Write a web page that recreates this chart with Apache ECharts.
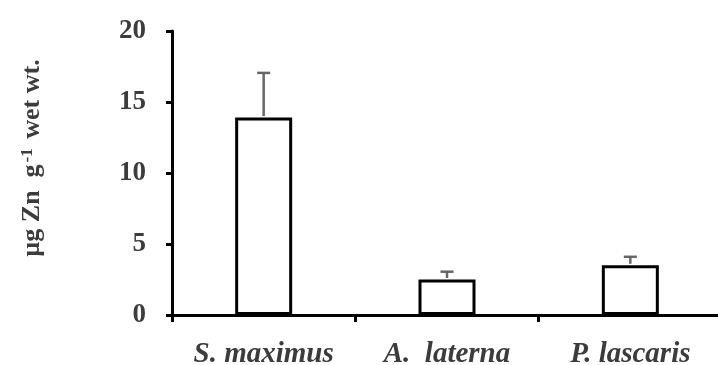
<!DOCTYPE html>
<html>
<head>
<meta charset="utf-8">
<script src="https://cdn.jsdelivr.net/npm/echarts@6/dist/echarts.min.js"></script>
<style>
  html, body { margin: 0; padding: 0; background: #fff; }
  #chart { width: 718px; height: 365px; }
</style>
</head>
<body>
<div id="chart"></div>
<script>
// species and zinc concentration (mean, +SD)
const species = ["S. maximus", "A.  laterna", "P. lascaris"];
const meanZn = [13.9, 2.5, 3.5];
const sdZn = [3.15, 0.55, 0.6];
const yTicks = [0, 5, 10, 15, 20];

const SERIF = "'Liberation Serif', 'Times New Roman', serif";
const LABEL_COLOR = "#3c3c3c";

const chart = echarts.init(document.getElementById("chart"), null, { renderer: "canvas" });

chart.setOption({
  backgroundColor: "#ffffff",
  animation: false,
  grid: { left: 172, right: -4, top: 31, bottom: 50, outerBoundsMode: "none", containLabel: false },
  xAxis: {
    type: "category",
    data: species,
    boundaryGap: true,
    axisLine: { lineStyle: { color: "#000", width: 3 } },
    axisTick: { show: true, length: 7, lineStyle: { color: "#000", width: 3 } },
    axisLabel: {
      interval: 0,
      hideOverlap: false,
      margin: 25,
      color: LABEL_COLOR,
      fontFamily: SERIF,
      fontSize: 29,
      fontWeight: "bold",
      fontStyle: "italic"
    },
    splitLine: { show: false }
  },
  yAxis: {
    type: "value",
    min: yTicks[0],
    max: yTicks[yTicks.length - 1],
    interval: 5,
    axisLine: { show: true, lineStyle: { color: "#000", width: 3 } },
    axisTick: { show: true, length: 6, lineStyle: { color: "#000", width: 3 } },
    axisLabel: {
      margin: 26,
      color: LABEL_COLOR,
      fontFamily: SERIF,
      fontSize: 27,
      fontWeight: "bold"
    },
    splitLine: { show: false }
  },
  graphic: [
    {
      type: "text",
      x: 32,
      y: 158,
      rotation: Math.PI / 2,
      style: {
        text: "{a|µg Zn  g}{s|-1}{a| wet wt.}",
        align: "center",
        verticalAlign: "middle",
        rich: {
          a: { font: "bold 26px " + SERIF, fill: LABEL_COLOR, verticalAlign: "bottom" },
          s: { font: "bold 17px " + SERIF, fill: LABEL_COLOR, verticalAlign: "top", padding: [0, 3, 0, 2] }
        }
      }
    }
  ],
  series: [
    {
      name: "mean",
      type: "bar",
      data: meanZn,
      barWidth: 57,
      itemStyle: { color: "#fff", borderColor: "#000", borderWidth: 3 },
      z: 2
    },
    {
      name: "sd",
      type: "custom",
      z: 3,
      data: meanZn.map((m, i) => [i, m, m + sdZn[i]]),
      renderItem: function (params, api) {
        const base = api.coord([api.value(0), api.value(1)]);
        const top = api.coord([api.value(0), api.value(2)]);
        const cap = 6.5;
        const st = { stroke: "#666", lineWidth: 2.5 };
        return {
          type: "group",
          children: [
            { type: "line", shape: { x1: base[0], y1: base[1] - 1.5, x2: top[0], y2: top[1] }, style: st },
            { type: "line", shape: { x1: top[0] - cap, y1: top[1], x2: top[0] + cap, y2: top[1] }, style: st }
          ]
        };
      }
    }
  ]
});
</script>
</body>
</html>
